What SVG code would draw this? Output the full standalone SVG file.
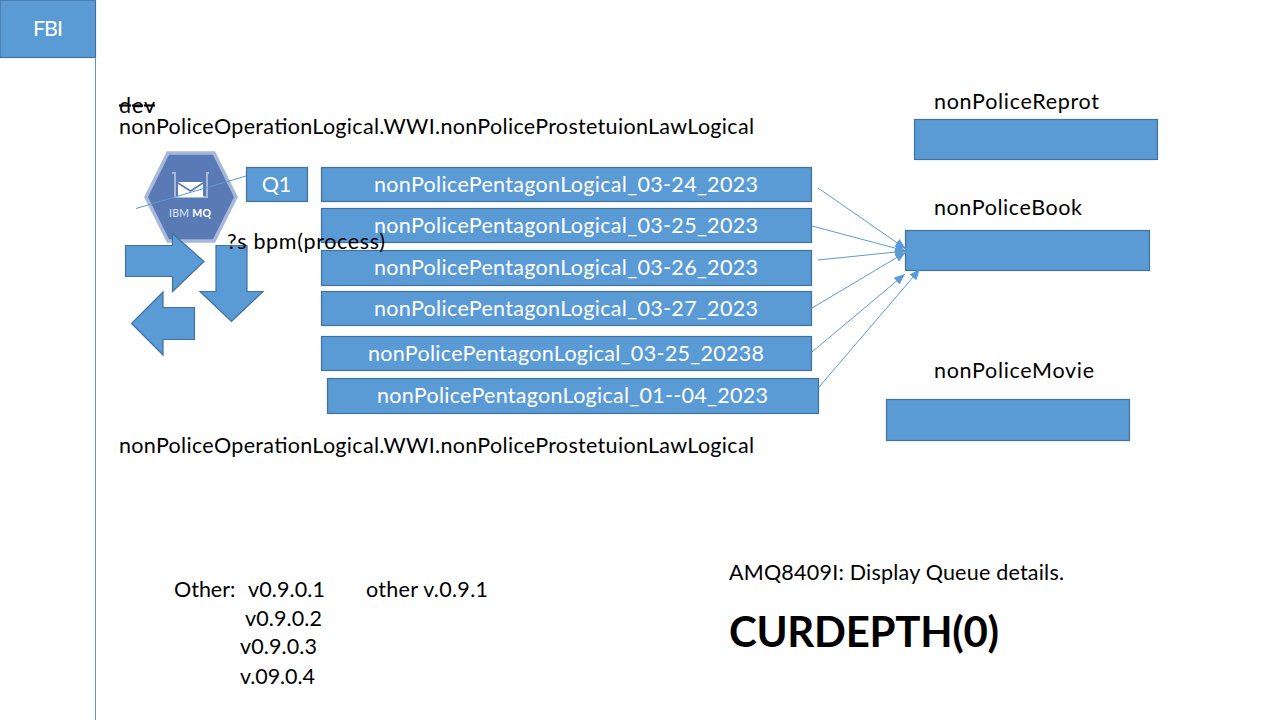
<svg xmlns="http://www.w3.org/2000/svg" width="1280" height="720" viewBox="0 0 1280 720">
<style>
text{font-family:Lato,"Open Sans",sans-serif;font-size:21.5px;fill:#000}
.w{fill:#fff;text-anchor:middle}
.b{fill:#5b9bd5;stroke:#41719c;stroke-width:1.2}
.l{stroke:#5b9bd5;stroke-width:1;fill:none}
.a{marker-end:url(#ah)}
</style>
<defs><marker id="ah" markerUnits="userSpaceOnUse" markerWidth="12" markerHeight="10" refX="11" refY="4.5" orient="auto"><path d="M0 0L11 4.500L0 9Z" fill="#5b9bd5"/></marker></defs>
<rect width="1280" height="720" fill="#fff"/>
<g id="fbi"><rect class="b" x="0" y="0" width="95.500" height="57.500"/><text class="w" x="48" y="36" textLength="30">FBI</text></g>
<g id="dev"><text x="119" y="112.500" text-decoration="line-through" textLength="36">dev</text></g>
<g id="top-label"><text x="119" y="134" textLength="635">nonPoliceOperationLogical.WWI.nonPoliceProstetuionLawLogical</text></g>
<g id="ibm-mq">
<path d="M146 197L168 153H214L236 197L214 241H168Z" fill="#5a7ab5" stroke="#a8b8d8" stroke-width="3.500"/>
<path d="M172 173H175V197H207V173H209" fill="none" stroke="#a8b8d8" stroke-width="2"/>
<path d="M178 182H203V197H178Z" fill="#fff"/>
<path d="M178 183L190.500 191L203 183" fill="none" stroke="#5a7ab5" stroke-width="1.500"/>
<text x="169" y="217" style="font-size:10.500px;fill:#dfe6f3" textLength="42">IBM <tspan font-weight="700" fill="#fff">MQ</tspan></text>
</g>
<g id="q1"><rect class="b" x="246.500" y="167.500" width="61" height="34"/><text class="w" x="276.500" y="192">Q1</text></g>
<g id="arrow-right"><path class="b" d="M125.500 245.500H172.500V233.500L204 261.500L172.500 291.500V276.500H125.500Z"/></g>
<g id="arrow-down"><path class="b" d="M216 245.500H247V291.500H263L231.500 321.500L200 291.500H216Z"/></g>
<g id="arrow-left"><path class="b" d="M194.500 307.500V339.500H163V355L131.500 323.500L163 292V307.500Z"/></g>
<g id="q-1"><rect class="b" x="321.500" y="167.500" width="490" height="34"/><text class="w" x="566" y="192" textLength="384">nonPolicePentagonLogical_03-24_2023</text></g>
<g id="q-2"><rect class="b" x="321.500" y="208.500" width="490" height="34"/><text class="w" x="566" y="233" textLength="384">nonPolicePentagonLogical_03-25_2023</text></g>
<g id="q-3"><rect class="b" x="321.500" y="250.500" width="490" height="35"/><text class="w" x="566" y="275" textLength="384">nonPolicePentagonLogical_03-26_2023</text></g>
<g id="q-4"><rect class="b" x="321.500" y="291.500" width="490" height="34"/><text class="w" x="566" y="316" textLength="384">nonPolicePentagonLogical_03-27_2023</text></g>
<g id="q-5"><rect class="b" x="321.500" y="336.500" width="490" height="34"/><text class="w" x="566" y="361" textLength="396">nonPolicePentagonLogical_03-25_20238</text></g>
<g id="q-6"><rect class="b" x="327.500" y="378.500" width="491" height="35"/><text class="w" x="572.500" y="403" textLength="391">nonPolicePentagonLogical_01--04_2023</text></g>
<g id="bpm"><text x="227" y="249" textLength="158">?s bpm(process)</text></g>
<g id="report"><text x="934" y="109" textLength="165">nonPoliceReprot</text><rect class="b" x="914.500" y="119.500" width="243" height="40"/></g>
<g id="book"><text x="934" y="215" textLength="148">nonPoliceBook</text><rect class="b" x="905.500" y="230.500" width="244" height="40"/></g>
<g id="movie"><text x="934" y="378" textLength="160">nonPoliceMovie</text><rect class="b" x="886.500" y="399.500" width="243" height="41"/></g>
<g id="bottom-label"><text x="119" y="453" textLength="635">nonPoliceOperationLogical.WWI.nonPoliceProstetuionLawLogical</text></g>
<g id="versions">
<text x="174" y="597">Other:</text>
<text x="248" y="597" textLength="77">v0.9.0.1</text>
<text x="366" y="597" textLength="122">other v.0.9.1</text>
<text x="245" y="626" textLength="77">v0.9.0.2</text>
<text x="240" y="654" textLength="77">v0.9.0.3</text>
<text x="240" y="684" textLength="75">v.09.0.4</text>
</g>
<g id="queue"><text x="729" y="580" textLength="335">AMQ8409I: Display Queue details.</text>
<text x="729" y="647" font-weight="700" style="font-size:42px" textLength="270">CURDEPTH(0)</text></g>
<g id="connectors">
<path class="l" d="M95.500 58V720"/>
<path class="l" d="M136 208.500L246 176"/>
<path class="l a" d="M818 188L906 249"/>
<path class="l a" d="M812 226L906 251"/>
<path class="l a" d="M818 260L906 251"/>
<path class="l a" d="M812 308L906 252"/>
<path class="l a" d="M812 352L905 274"/>
<path class="l a" d="M819 387L920 269"/>
</g>
</svg>
